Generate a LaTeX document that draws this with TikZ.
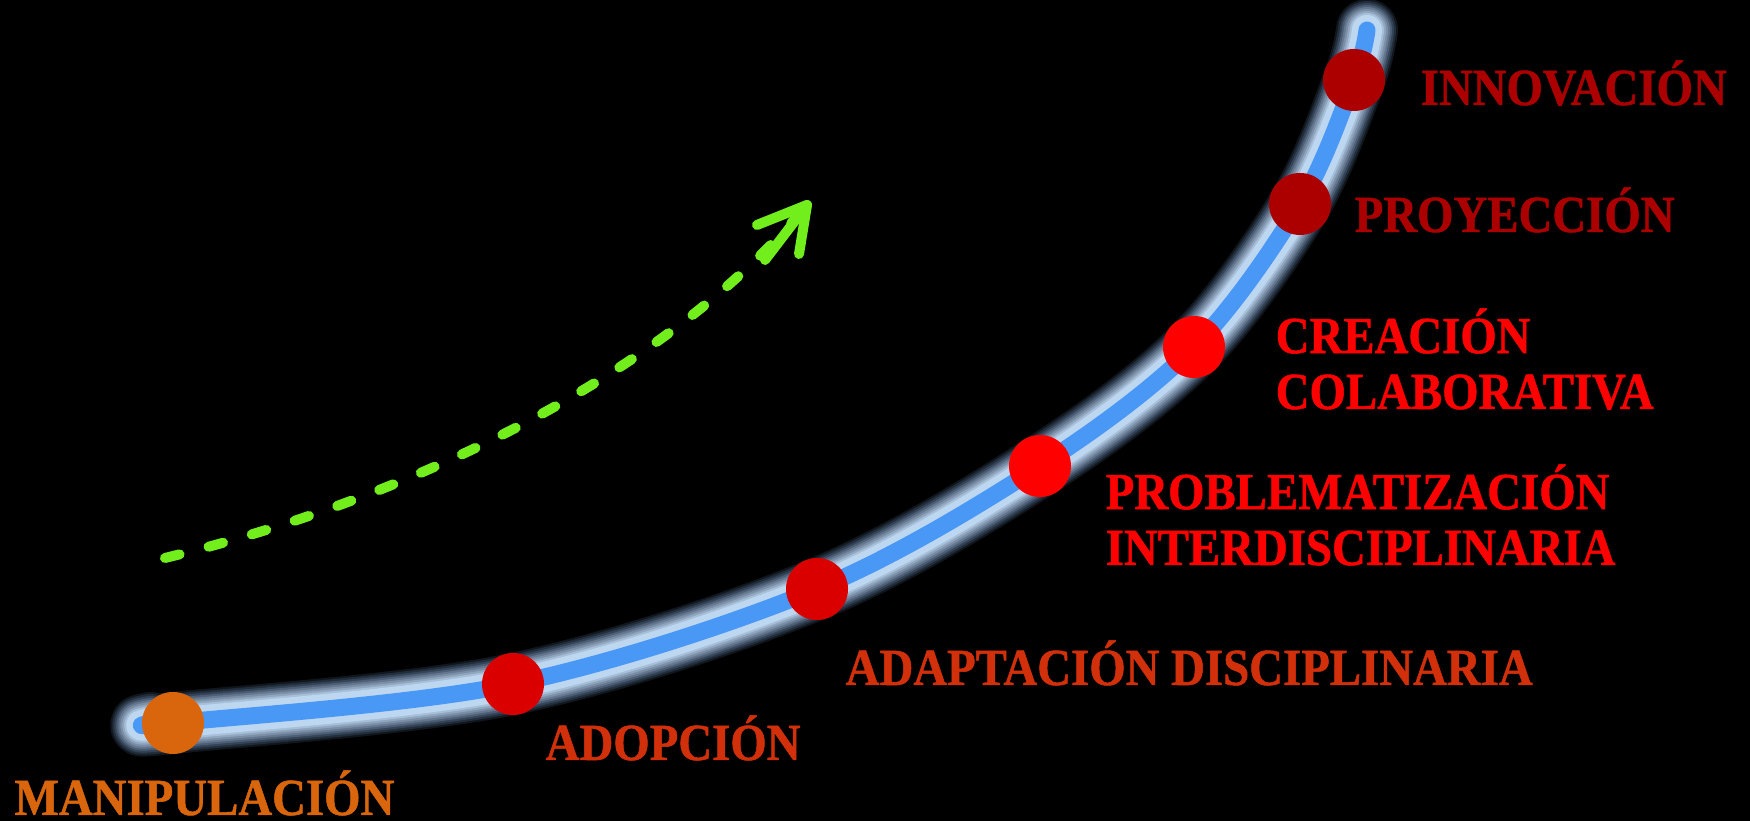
\documentclass[tikz,border=0pt]{standalone}
\usepackage{fontspec}
\newfontfamily\stagefont{Liberation Serif}[FakeStretch=0.90,FakeBold=1]

\definecolor{coreblue}{HTML}{4A98F6}
\definecolor{paleblue}{HTML}{C4DEF8}
\definecolor{glowblue}{HTML}{8CBCF4}
\definecolor{innovred}{HTML}{AC0000}
\definecolor{brightred}{HTML}{FF0000}
\definecolor{warmred}{HTML}{D2300A}
\definecolor{dotred}{HTML}{DA0000}
\definecolor{manorange}{HTML}{D9660C}
\definecolor{trendgreen}{HTML}{72EE1C}

\begin{document}
\begin{tikzpicture}
        \tikzstyle{dot}=[circle,inner sep=0pt,minimum size=6.2mm]
        \tikzstyle{stage}=[anchor=base west,inner sep=0pt,align=left,font=\stagefont\bfseries\fontsize{14.8}{15.9}\selectfont]
        \tikzstyle{trend}=[draw=trendgreen,line width=1mm,line cap=round,line join=round]

      \fill[black] (0,0) rectangle (17.5,8.21);
      \useasboundingbox (0,0) rectangle (17.5,8.21);

      \begin{scope}
         \coordinate (b0) at (1.51,0.98);
         \coordinate (k0) at (1.73,0.98);
         \coordinate (k1) at (5.13,1.37);
         \coordinate (k2) at (8.17,2.32);
         \coordinate (k3) at (10.40,3.55);
         \coordinate (k4) at (11.94,4.74);
         \coordinate (k5) at (13.00,6.17);
         \coordinate (k6) at (13.54,7.41);
         \coordinate (b1) at (13.67,7.91);

         % glowing path, widest layer first
         \foreach \w/\c/\o in {0.62/glowblue/0.12, 0.58/glowblue/0.14, 0.54/glowblue/0.16, 0.50/paleblue/0.18,
                               0.46/paleblue/0.20, 0.42/paleblue/0.24, 0.38/paleblue/0.30, 0.34/paleblue/0.45,
                               0.30/paleblue/0.80, 0.17/coreblue/1}
            \draw[line width=\w cm,draw=\c,draw opacity=\o,line cap=round,line join=round]
               plot[smooth,tension=0.55] coordinates {(b0) (k0) (k1) (k2) (k3) (k4) (k5) (k6) (b1)};

         \node[dot,fill=manorange] (s0) at (k0) {};
         \node[dot,fill=dotred]    (s1) at (k1) {};
         \node[dot,fill=dotred]    (s2) at (k2) {};
         \node[dot,fill=brightred] (s3) at (k3) {};
         \node[dot,fill=brightred] (s4) at (k4) {};
         \node[dot,fill=innovred]  (s5) at (k5) {};
         \node[dot,fill=innovred]  (s6) at (k6) {};

         \node[stage,text=manorange] (l0) at (0.14,0.06)  {MANIPULACIÓN};
         \node[stage,text=warmred]   (l1) at (5.45,0.61)  {ADOPCIÓN};
         \node[stage,text=warmred]   (l2) at (8.45,1.36)  {ADAPTACIÓN DISCIPLINARIA};
         \node[stage,text=brightred] (l3) at (11.05,2.56) {PROBLEMATIZACIÓN\\INTERDISCIPLINARIA};
         \node[stage,text=brightred] (l4) at (12.75,4.12) {CREACIÓN\\COLABORATIVA};
         \node[stage,text=innovred]  (l5) at (13.54,5.89) {PROYECCIÓN};
         \node[stage,text=innovred]  (l6) at (14.20,7.16) {INNOVACIÓN};

         % dashed trend with a hand drawn head
         \coordinate (g0) at (1.65,2.63);
         \coordinate (g1) at (8.07,6.16);
         \draw[trend,dash pattern=on 1.5mm off 3.0mm] (g0) .. controls (4.0,3.2) and (6.6,4.4) .. (g1);
         \draw[trend] (g1) -- ++(-0.42,-0.55);
         \draw[trend] (g1) ++(-0.50,-0.20) -- (g1) -- ++(-0.08,-0.49);
      \end{scope}
    \end{tikzpicture}
\end{document}
